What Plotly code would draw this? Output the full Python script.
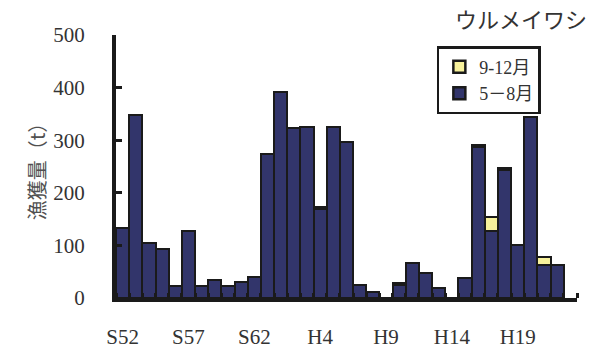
import plotly.graph_objects as go

years = list(range(1977, 2011))
catch_may_aug = [133, 347, 104, 94, 22, 128, 22, 34, 22, 30, 40, 274, 392, 323, 326, 170, 325, 297,
                 24, 11, 0, 25, 66, 47, 19, 0, 38, 287, 127, 243, 100, 345, 62, 62]
catch_sep_dec = [0, 0, 0, 0, 0, 0, 0, 0, 0, 0, 0, 0, 0, 0, 0, 3, 0, 0,
                 0, 0, 0, 3, 0, 0, 0, 0, 0, 4, 27, 4, 0, 0, 16, 0]
tick_years = [1977, 1982, 1987, 1992, 1997, 2002, 2007]
tick_labels = ["S52", "S57", "S62", "H4", "H9", "H14", "H19"]
y_ticks = [0, 100, 200, 300, 400, 500]

serif = "Liberation Serif, 'Noto Sans CJK JP', serif"

fig = go.Figure()
fig.add_trace(go.Bar(x=years, y=catch_may_aug, name="5－8月", legendgroup="b", legendrank=2,
                     marker=dict(color="#32356b", line=dict(color="#1a1a1a", width=2.5))))
fig.add_trace(go.Bar(x=years, y=catch_sep_dec, name="9-12月", legendgroup="a", legendrank=1,
                     marker=dict(color="#f7f19b", line=dict(color="#1a1a1a", width=2.5))))

fig.update_layout(
    width=595, height=354,
    margin=dict(l=116, r=18, t=35, b=56, autoexpand=False),
    barmode="stack", bargap=0,
    plot_bgcolor="white", paper_bgcolor="white",
    font=dict(family=serif, size=21, color="#333"),
    showlegend=True,
    legend=dict(traceorder="grouped", x=0.696, y=0.958, xanchor="left", yanchor="top",
                bordercolor="#1a1a1a", borderwidth=2.5, bgcolor="white",
                font=dict(size=18, color="#333"), itemwidth=30,
                tracegroupgap=0),
    annotations=[dict(text="ウルメイワシ", xref="paper", yref="paper", x=1.027, y=1.063,
                      xanchor="right", yanchor="middle", showarrow=False,
                      font=dict(family="'Noto Sans CJK JP'", size=22, color="#333"))],
)
fig.update_xaxes(range=[1976.5, 2011.5], tickmode="array", tickvals=tick_years, ticktext=tick_labels,
                 ticks="", showline=True, linecolor="#1a1a1a", linewidth=4, showgrid=False,
                 zeroline=False, ticklabelstandoff=17, automargin=False,
                 minor=dict(tickmode="array", tickvals=[y + 0.5 for y in range(1976, 2012)],
                            ticks="inside", ticklen=5, tickwidth=3, tickcolor="#1a1a1a"))
fig.update_yaxes(range=[0, 500], tickmode="array", tickvals=y_ticks,
                 ticks="inside", ticklen=6, tickwidth=3, tickcolor="#1a1a1a",
                 showline=True, linecolor="#1a1a1a", linewidth=4, showgrid=False, zeroline=False,
                 ticklabelstandoff=23, automargin=False,
                 title=dict(text="漁獲量（t）", font=dict(family="'Noto Sans CJK JP'", size=20, color="#505050"),
                            standoff=3))

fig.write_html("out.html", config={"displayModeBar": False},
               post_script="document.body.style.margin='0';document.body.style.overflow='hidden';")
